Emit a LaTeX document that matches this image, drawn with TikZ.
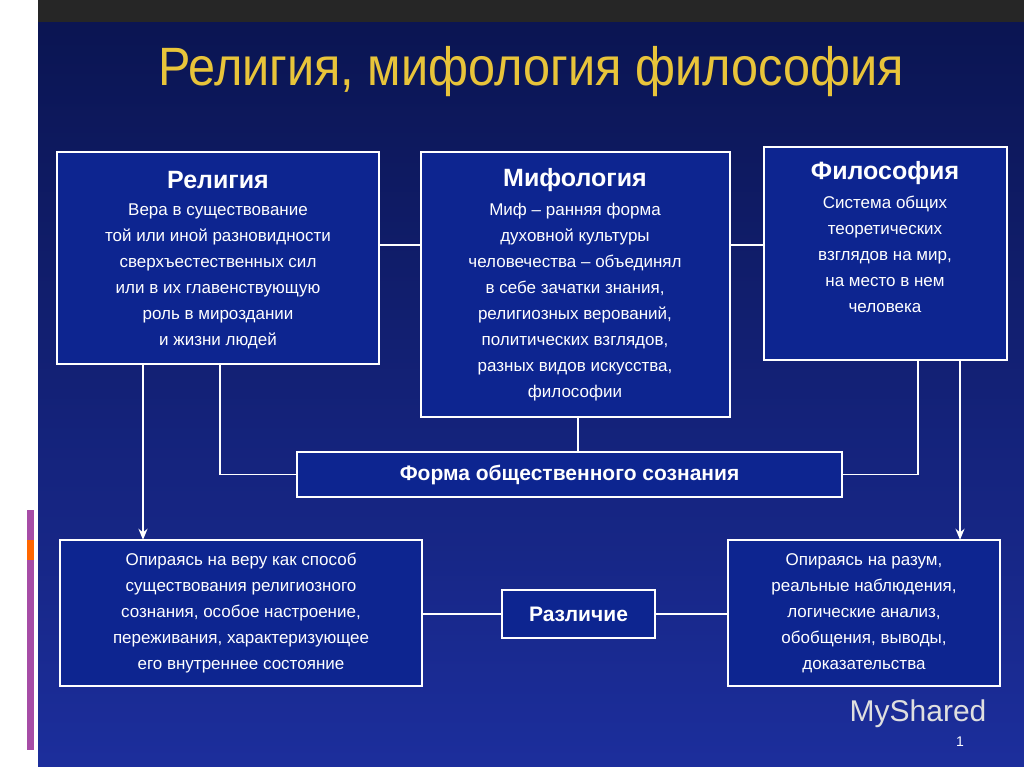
\documentclass[tikz,border=0pt]{standalone}
\usepackage{fontspec}
\setmainfont{Liberation Sans}
\usetikzlibrary{arrows.meta}
\definecolor{bgA}{HTML}{0A1450}
\definecolor{bgB}{HTML}{1C2E9C}
\definecolor{boxc}{HTML}{0D2590}
\definecolor{ttl}{HTML}{E8C43A}
\tikzset{
 bx/.style={draw=white,line width=2pt,fill=boxc},
 ln/.style={draw=white,line width=1.8pt},
 ar/.style={ln,-{Stealth[length=11pt,width=9pt]}},
 hd/.style={text=white,font=\fontsize{25}{28}\selectfont\bfseries},
 bd/.style={text=white,font=\fontsize{17}{26}\selectfont,align=center},
}
\begin{document}
\begin{tikzpicture}[x=1pt,y=-1pt]
\useasboundingbox (0,0) rectangle (1024,767);
\fill[white] (0,0) rectangle (1024,767);
\shade[top color=bgA,bottom color=bgB] (38,0) rectangle (1024,767);
\fill[black!85] (38,0) rectangle (1024,22);
\fill[violet!70] (27,510) rectangle (34,540);
\fill[orange!80!red] (27,540) rectangle (34,560);
\fill[violet!70] (27,560) rectangle (34,750);
\node[text=ttl,font=\fontsize{54}{56}\selectfont,xscale=0.9] (title) at (531,72) {Религия, мифология философия};
\node (rel) at (218,258) [minimum width=322pt,minimum height=212pt] {};
\node (mif) at (575.5,284.5) [minimum width=309pt,minimum height=265pt] {};
\node (fil) at (885.5,253.5) [minimum width=243pt,minimum height=213pt] {};
\node (frm) at (569.5,474.5) [minimum width=545pt,minimum height=45pt] {};
\node (lb) at (241,613) [minimum width=362pt,minimum height=146pt] {};
\node (dif) at (578.5,614) [minimum width=153pt,minimum height=48pt] {};
\node (rb) at (864,613) [minimum width=272pt,minimum height=146pt] {};
\path[bx] (57,152) rectangle (379,364);
\path[bx] (421,152) rectangle (730,417);
\path[bx] (764,147) rectangle (1007,360);
\path[bx] (297,452) rectangle (842,497);
\path[bx] (60,540) rectangle (422,686);
\path[bx] (502,590) rectangle (655,638);
\path[bx] (728,540) rectangle (1000,686);
% connectors
\draw[ln] (rel.east|-0,245) -- (mif.west|-0,245);
\draw[ln] (mif.east|-0,245) -- (fil.west|-0,245);
\draw[ln] (220,364) |- (frm.west);
\draw[ln] (mif.south-|578,0) -- (frm.north-|578,0);
\draw[ln] (918,360) |- (frm.east);
\draw[ar] (143,364) -- (lb.north-|143,0);
\draw[ar] (960,360) -- (rb.north-|960,0);
\draw[ln] (lb.east|-dif.west) -- (dif.west);
\draw[ln] (dif.east) -- (rb.west|-dif.east);
% texts
\node[hd] at (218,180) {Религия};
\node[bd,anchor=north] at (218,200) {Вера в существование\\той или иной разновидности\\сверхъестественных сил\\или в их главенствующую\\роль в мироздании\\и жизни людей};
\node[hd] at (575,180) {Мифология};
\node[bd,anchor=north] at (575,200) {Миф – ранняя форма\\духовной культуры\\человечества – объединял\\в себе зачатки знания,\\религиозных верований,\\политических взглядов,\\разных видов искусства,\\философии};
\node[hd] at (885,173) {Философия};
\node[bd,anchor=north] at (885,192) {Система общих\\теоретических\\взглядов на мир,\\на место в нем\\человека};
\node[text=white,font=\fontsize{21}{23}\selectfont\bfseries] at (frm) {Форма общественного сознания};
\node[text=white,font=\fontsize{21}{23}\selectfont\bfseries] at (dif) {Различие};
\node[bd] at (lb) {Опираясь на веру как способ\\существования религиозного\\сознания, особое настроение,\\переживания, характеризующее\\его внутреннее состояние};
\node[bd] at (rb) {Опираясь на разум,\\реальные наблюдения,\\логические анализ,\\обобщения, выводы,\\доказательства};
\node[text=white!75!gray,font=\fontsize{30}{32}\selectfont] at (918,714) {MyShared};
\node[text=white,font=\fontsize{14}{16}\selectfont] at (960,742) {1};
\end{tikzpicture}
\end{document}
